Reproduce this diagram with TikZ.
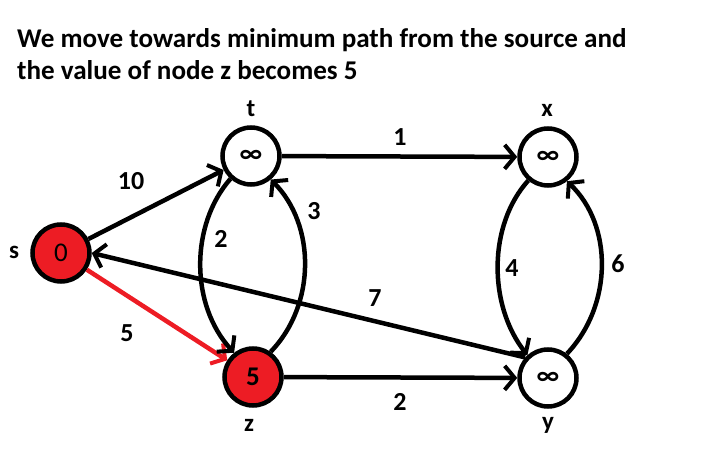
\documentclass[tikz,border=0pt]{standalone}
\usepackage{fontspec}
\setmainfont{Carlito}
\usetikzlibrary{arrows.meta}
\definecolor{pred}{HTML}{ED1C24}
\begin{document}
\begin{tikzpicture}[x=1pt,y=-1pt,
  vtx/.style={circle,draw=black,line width=4.5pt,minimum size=57pt,inner sep=0pt,fill=white,font=\fontsize{27}{30}\selectfont\bfseries},
  done/.style={vtx,fill=pred},
  edge/.style={line width=4.5pt,-{Straight Barb[length=10pt,width=24pt,line width=4pt]}},
  wlab/.style={font=\fontsize{26}{30}\selectfont\bfseries,inner sep=0pt},
  nlab/.style={font=\fontsize{25}{30}\selectfont\bfseries,inner sep=0pt}]
\useasboundingbox (0,0) rectangle (702,454);
\node[anchor=west,align=left,inner sep=0pt,font=\fontsize{27.1}{32}\selectfont\bfseries] (title) at (17,54) {We move towards minimum path from the source and\\the value of node z becomes 5};
\node[done] (s) at (61,253) {\fontseries{m}\selectfont 0};
\node[vtx] (t) at (251,156) {∞};
\node[vtx] (x) at (548,157) {∞};
\node[done] (z) at (253,377) {5};
\node[vtx] (y) at (548,378) {∞};
\node[nlab] (ls) at (14,252) {s};
\node[nlab] (lt) at (251,109) {t};
\node[nlab] (lx) at (547,110) {x};
\node[nlab] (lz) at (249,425) {z};
\node[nlab] (ly) at (548,425) {y};
\draw[edge] (s) -- (t);
\draw[edge] (t) -- (x);
\draw[edge] (z) -- (y);
\draw[edge] (y.138) -- (s.east);
\draw[edge,draw=pred] (s) -- (z);
\draw[edge] (t.228) .. controls (190,225) and (190,305) .. (z.128);
\draw[edge] (z.55) .. controls (316,305) and (316,225) .. (t.310);
\draw[edge] (x.230) .. controls (488,225) and (488,305) .. (y.132);
\draw[edge] (y.52) .. controls (613,305) and (613,225) .. (x.308);
\node[wlab] (w10) at (131,181) {10};
\node[wlab] (w1) at (400,137) {1};
\node[wlab] (w3) at (314,211) {3};
\node[wlab] (w2a) at (221,239) {2};
\node[wlab] (w4) at (512,268) {4};
\node[wlab] (w6) at (618,264) {6};
\node[wlab] (w7) at (375,298) {7};
\node[wlab] (w5) at (127,333) {5};
\node[wlab] (w2b) at (400,402) {2};
\end{tikzpicture}
\end{document}
